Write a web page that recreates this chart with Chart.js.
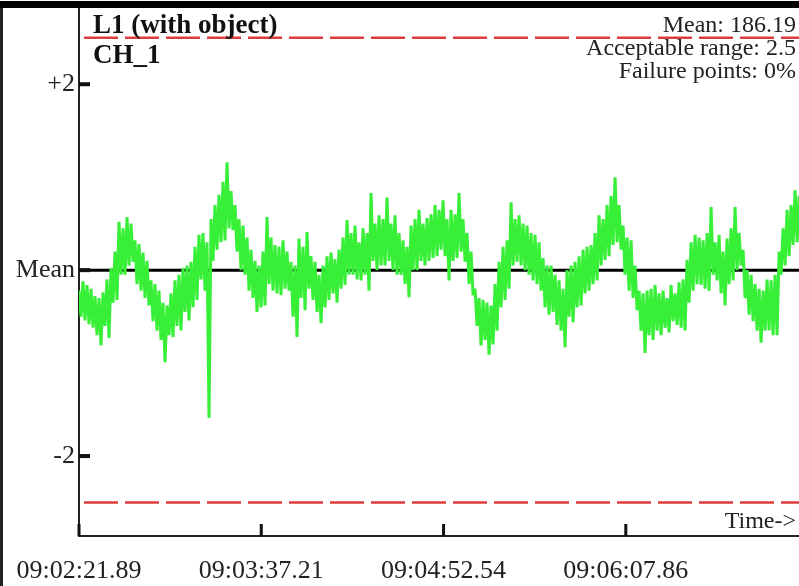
<!DOCTYPE html>
<html>
<head>
<meta charset="utf-8">
<title>L1 (with object) - CH_1</title>
<script src="https://cdn.jsdelivr.net/npm/chart.js@4.4.1/dist/chart.umd.min.js"></script>
<style>
body { margin: 0; background: #fff; }
#wrap { width: 799px; height: 586px; }
</style>
</head>
<body>
<div id="wrap"><canvas id="chart" width="799" height="586"></canvas></div>
<script>
let chartTitle = "L1 (with object)";
let channelName = "CH_1";
let statsLines = ["Mean: 186.19", "Acceptable range: 2.5", "Failure points: 0%"];
let timeLabel = "Time->";

// seconds between samples, deviation from the mean
let sampleStep = 0.8266;
let deviation = [
	-0.22, -0.50, -0.12, -0.54, -0.16, -0.58, -0.20, -0.62, -0.28, -0.70,
	-0.30, -0.81, -0.24, -0.60, -0.10, -0.73, 0.02, -0.35, 0.20, -0.32,
	0.52, -0.05, 0.45, -0.05, 0.57, 0.05, 0.50, 0.09, 0.32, -0.15,
	0.28, -0.22, 0.19, -0.30, 0.10, -0.38, -0.11, -0.55, -0.15, -0.65,
	-0.22, -0.75, -0.35, -0.99, -0.38, -0.70, -0.25, -0.72, -0.11, -0.60,
	-0.05, -0.65, 0.02, -0.45, 0.05, -0.54, 0.09, -0.40, 0.25, -0.32,
	0.38, -0.10, 0.40, -0.22, 0.30, -1.59, 0.55, 0.10, 0.70, 0.22,
	0.81, 0.30, 0.95, 0.32, 1.16, 0.45, 0.85, 0.43, 0.70, 0.20,
	0.55, 0.00, 0.48, -0.05, 0.35, -0.22, 0.22, -0.30, 0.10, -0.45,
	0.05, -0.40, 0.20, -0.38, 0.57, -0.15, 0.35, -0.22, 0.27, -0.25,
	0.25, -0.27, 0.32, -0.20, 0.20, -0.22, 0.09, -0.50, 0.05, -0.72,
	0.34, -0.30, 0.25, -0.43, 0.41, -0.20, 0.15, -0.32, 0.09, -0.45,
	-0.05, -0.57, 0.05, -0.40, 0.15, -0.32, 0.19, -0.25, 0.12, -0.35,
	0.22, -0.20, 0.35, -0.16, 0.54, -0.05, 0.40, -0.05, 0.48, -0.10,
	0.30, -0.11, 0.45, -0.05, 0.40, -0.22, 0.83, 0.10, 0.50, 0.00,
	0.59, 0.05, 0.55, 0.05, 0.78, 0.10, 0.50, 0.00, 0.59, -0.05,
	0.40, -0.05, 0.32, -0.15, 0.25, -0.29, 0.48, 0.00, 0.55, 0.00,
	0.65, 0.10, 0.50, 0.05, 0.56, 0.10, 0.60, 0.13, 0.70, 0.15,
	0.65, 0.22, 0.75, 0.15, 0.55, -0.11, 0.65, 0.10, 0.60, 0.13,
	0.83, 0.20, 0.55, 0.09, 0.40, -0.15, 0.20, -0.27, -0.20, -0.60,
	-0.30, -0.81, -0.32, -0.75, -0.35, -0.91, -0.38, -0.80, -0.15, -0.65,
	0.09, -0.40, 0.25, -0.32, 0.32, -0.20, 0.73, 0.05, 0.55, 0.09,
	0.59, 0.05, 0.50, 0.00, 0.48, -0.05, 0.40, -0.11, 0.38, -0.15,
	0.30, -0.22, 0.13, -0.40, 0.05, -0.48, 0.05, -0.45, -0.05, -0.59,
	-0.11, -0.65, -0.20, -0.83, 0.00, -0.50, 0.05, -0.56, 0.09, -0.40,
	0.15, -0.38, 0.22, -0.25, 0.25, -0.22, 0.27, -0.15, 0.40, -0.11,
	0.59, 0.05, 0.55, 0.11, 0.70, 0.15, 0.80, 0.27, 1.00, 0.30,
	0.70, 0.22, 0.48, -0.05, 0.35, -0.22, 0.32, -0.30, 0.05, -0.43,
	-0.22, -0.65, -0.25, -0.89, -0.22, -0.70, -0.20, -0.75, -0.16, -0.65,
	-0.25, -0.70, -0.22, -0.62, -0.30, -0.67, -0.16, -0.55, -0.25, -0.59,
	-0.13, -0.62, -0.10, -0.65, 0.11, -0.35, 0.30, -0.22, 0.38, -0.15,
	0.35, -0.16, 0.32, -0.20, 0.40, -0.22, 0.68, -0.05, 0.30, -0.11,
	0.38, -0.25, 0.20, -0.38, 0.34, -0.15, 0.45, -0.11, 0.68, 0.00,
	0.40, 0.05, 0.22, -0.30, 0.00, -0.48, -0.05, -0.55, -0.15, -0.65,
	-0.20, -0.78, -0.22, -0.65, -0.10, -0.65, -0.11, -0.70, -0.05, -0.70,
	0.20, -0.05, 0.45, 0.05, 0.65, 0.15, 0.70, 0.27, 0.86, 0.30,
	0.80, 0.43
];

let meanValue = 0;
let limitHigh = 2.5;
let limitLow = -2.5;
let timeSpan = 297.54;

let yTickValues = [-2, 0, 2];
let yTickLabels = ["-2", "Mean", "+2"];
let xTickValues = [0, 75.32, 150.65, 225.97];
let xTickLabels = ["09:02:21.89", "09:03:37.21", "09:04:52.54", "09:06:07.86"];

let serif = '"Liberation Serif", "Times New Roman", serif';

function flatLine(v) {
	return [{x: 0, y: v}, {x: timeSpan, y: v}];
}

let framePlugin = {
	id: 'frame',
	beforeDraw(chart) {
		let ctx = chart.ctx;
		ctx.save();
		ctx.fillStyle = '#fff';
		ctx.fillRect(0, 0, chart.width, chart.height);
		ctx.restore();
	},
	afterDraw(chart) {
		let ctx = chart.ctx;
		let area = chart.chartArea;
		let xs = chart.scales.x, ys = chart.scales.y;
		ctx.save();
		// window frame
		ctx.fillStyle = '#000';
		ctx.fillRect(0, 1, chart.width, 7);
		ctx.fillStyle = '#222';
		ctx.fillRect(0, 8, 3, chart.height - 8);

		// inward tick marks
		ctx.fillStyle = '#111';
		yTickValues.forEach(function(v) {
			let py = ys.getPixelForValue(v);
			ctx.fillRect(area.left, py - 2, 11, 4);
		});
		xTickValues.forEach(function(v) {
			let px = xs.getPixelForValue(v);
			ctx.fillRect(px - 1.5, area.bottom - 12, 3, 12);
		});

		// texts
		ctx.fillStyle = '#111';
		ctx.textBaseline = 'alphabetic';
		ctx.textAlign = 'left';
		ctx.font = 'bold 27px ' + serif;
		ctx.fillText(chartTitle, 93, 33);
		ctx.fillText(channelName, 93, 63);

		ctx.fillStyle = '#222';
		ctx.font = '24px ' + serif;
		ctx.textAlign = 'right';
		statsLines.forEach(function(s, i) {
			ctx.fillText(s, 796, 32 + i * 23);
		});
		ctx.fillText(timeLabel, 796, 528);
		ctx.restore();
	}
};

let dataPlot = new Chart(document.getElementById("chart"), {
	type: 'line',
	data: {
		datasets: [{
			data: deviation.map((v, i) => ({x: i * sampleStep, y: v})),
			borderColor: '#36ef36',
			borderWidth: 3,
			borderJoinStyle: 'bevel',
			pointRadius: 0,
			order: 1
		}, {
			data: flatLine(meanValue),
			borderColor: '#000',
			borderWidth: 3,
			pointRadius: 0,
			order: 3
		}, {
			data: flatLine(limitHigh),
			borderColor: '#dc3c3c',
			borderWidth: 2.5,
			borderDash: [34, 7],
			borderDashOffset: 36,
			pointRadius: 0,
			order: 2
		}, {
			data: flatLine(limitLow),
			borderColor: '#dc3c3c',
			borderWidth: 2.5,
			borderDash: [34, 7],
			borderDashOffset: 36,
			pointRadius: 0,
			order: 2
		}]
	},
	options: {
		responsive: false,
		animation: false,
		layout: {padding: {top: 8, left: 0, right: 0, bottom: 0}},
		plugins: {
			legend: {display: false},
			tooltip: {enabled: false}
		},
		scales: {
			x: {
				type: 'linear',
				min: 0,
				max: timeSpan,
				afterBuildTicks: s => { s.ticks = xTickValues.map(v => ({value: v})); },
				afterFit: s => { s.height = 50; s.paddingLeft = 0; s.paddingRight = 0; },
				grid: {display: false, drawTicks: false},
				border: {display: true, color: '#222', width: 2},
				ticks: {
					autoSkip: false,
					maxRotation: 0,
					padding: 20,
					color: '#222',
					font: {family: serif, size: 26},
					callback: (v, i) => xTickLabels[i]
				}
			},
			y: {
				min: -2.86,
				max: 2.82,
				afterBuildTicks: s => { s.ticks = yTickValues.map(v => ({value: v})); },
				afterFit: s => { s.width = 79; s.paddingTop = 0; s.paddingBottom = 0; },
				grid: {display: false, drawTicks: false},
				border: {display: true, color: '#222', width: 2},
				ticks: {
					autoSkip: false,
					padding: 4,
					color: '#222',
					font: {family: serif, size: 26},
					callback: (v, i) => yTickLabels[i]
				}
			}
		}
	},
	plugins: [framePlugin]
});
</script>
</body>
</html>
